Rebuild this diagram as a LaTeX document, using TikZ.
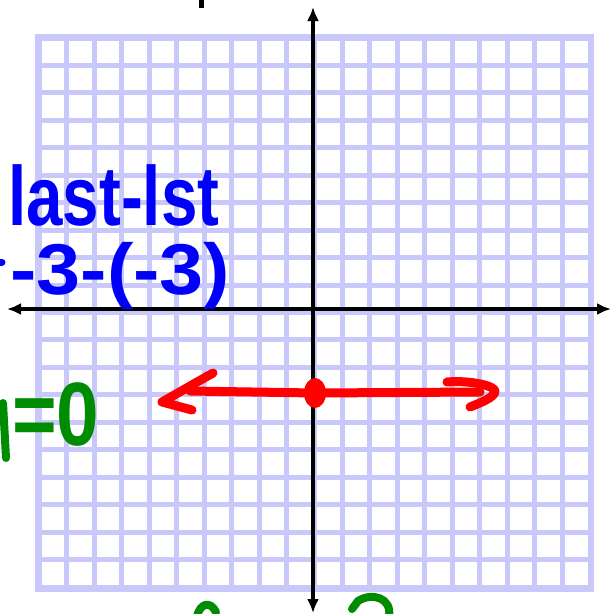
\documentclass[tikz,border=0pt]{standalone}
\usepackage{fontspec}
\setmainfont{Liberation Sans}
\usetikzlibrary{arrows.meta,shapes.geometric}
\definecolor{gridblue}{RGB}{200,200,250}
\definecolor{penblue}{RGB}{0,0,250}
\definecolor{pengreen}{RGB}{0,140,0}
\definecolor{penred}{RGB}{255,0,0}
\tikzset{
  gridline/.style={draw=gridblue, line width=5pt},
  axis/.style={draw=black, line width=4pt, arrows={Latex[length=14pt,width=12pt]-Latex[length=14pt,width=12pt]}},
  redpen/.style={draw=penred, line width=9pt, line cap=round, line join=round},
  greenpen/.style={draw=pengreen, line width=8pt, line cap=round},
  bluepen/.style={draw=penblue, line width=7pt, line cap=round},
  hand/.style={inner sep=0pt, anchor=base west},
}
\begin{document}
\begin{tikzpicture}[x=1pt, y=-1pt]
\useasboundingbox (0,0) rectangle (611,614);
\fill[white] (0,0) rectangle (611,614);
% grid
\foreach \k in {0,...,20} {
  \draw[gridline] ({39+27.55*\k},36) -- ({39+27.55*\k},590);
  \draw[gridline] (37,{38+27.45*\k}) -- (592,{38+27.45*\k});
}
\draw[draw=gridblue, line width=6pt] (38,37) rectangle (591,589);
% axes
\coordinate (ytop) at (313,7);
\coordinate (ybot) at (313,613);
\coordinate (xleft) at (7,309);
\coordinate (xright) at (611,309);
\draw[axis] (ybot) -- (ytop);
\draw[axis] (xleft) -- (xright);
% cropped fragments at the edges
\draw[black, line width=5pt] (201,0) -- (201,8);
\draw[bluepen] (-2,262) -- (2,262);
\draw[greenpen] (3,403) -- (6,458);
\draw[greenpen] (197,616) .. controls (200,604) and (210,600) .. (216,612);
\draw[greenpen] (352,609) -- (358,601) .. controls (372,592) and (392,598) .. (389,616);
% blue work
\node[hand, text=penblue, font=\bfseries\fontsize{84}{84}\selectfont, xscale=0.78] (lastfirst) at (8,225) {last-lst};
\node[hand, text=penblue, font=\bfseries\fontsize{72}{72}\selectfont, xscale=1.1] (calc) at (10,294) {-3-(-3)};
% green slope
\node[hand, text=pengreen, font=\bfseries\fontsize{90}{90}\selectfont, xscale=0.85] (slope) at (12,445) {=0};
% red line
\node[draw=none, fill=penred, ellipse, minimum width=22pt, minimum height=30pt, inner sep=0pt] (pt) at (315,393) {};
\coordinate (lend) at (190,391);
\coordinate (rend) at (480,392);
\draw[redpen] (lend) -- (pt.center) -- (rend);
\draw[redpen] (213,373) -- (162,402) -- (192,410);
\draw[redpen] (447,382) .. controls (470,380) and (497,386) .. (495,392) .. controls (493,398) and (480,403) .. (470,407);
\end{tikzpicture}
\end{document}
